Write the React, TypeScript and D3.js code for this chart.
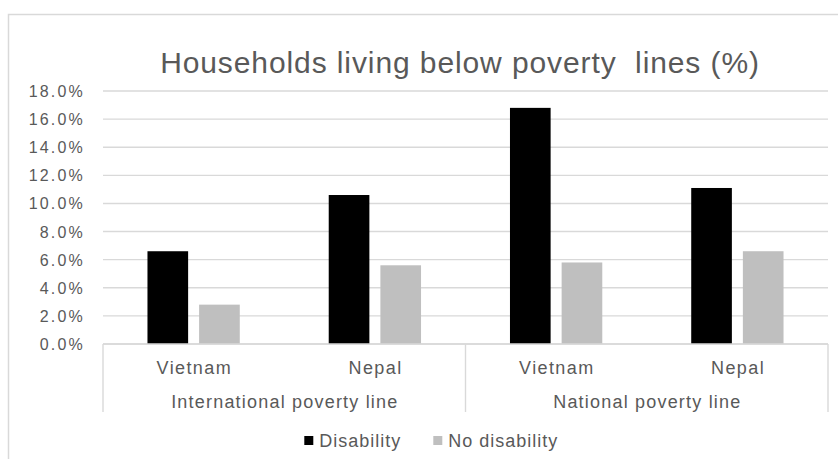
import React from "react";
import * as d3 from "d3";

const title = "Households living below poverty  lines (%)";
const countries = ["Vietnam", "Nepal", "Vietnam", "Nepal"];
const groups = ["International poverty line", "National poverty line"];
const groupOf = [0, 0, 1, 1];
const seriesNames = ["Disability", "No disability"];
const disability = [6.6, 10.6, 16.8, 11.1];
const noDisability = [2.8, 5.6, 5.8, 6.6];
const yTicks = [0, 2, 4, 6, 8, 10, 12, 14, 16, 18];

const W = 838;
const H = 459;
const left = 103;
const right = 828;
const top = 91;
const bottom = 344;
const textColor = "#595959";
const gridColor = "#d9d9d9";
const colors = ["#000000", "#bfbfbf"];
const font = "'Liberation Sans', Arial, sans-serif";

export default function App() {
  const idx = countries.map((_, i) => String(i));
  const x0 = d3.scaleBand<string>().domain(idx).range([left, right]).padding(0);
  const x1 = d3
    .scaleBand<string>()
    .domain(seriesNames)
    .range([0, x0.bandwidth()])
    .paddingInner(0.213)
    .paddingOuter(0.861);
  const y = d3.scaleLinear().domain([0, 18]).range([bottom, top]);
  const values = [disability, noDisability];
  const groupX = d3.scaleBand<string>().domain(groups).range([left, right]).padding(0);

  return (
    <svg
      width={W}
      height={H}
      style={{ position: "absolute", left: 0, top: 0, display: "block", background: "#fff" }}
      fontFamily={font}
    >
      <rect x={8.5} y={14.5} width={840} height={460} fill="#fff" stroke={gridColor} strokeWidth={1.5} />
      <text
        x={460}
        y={73}
        textAnchor="middle"
        fontSize={30}
        fill={textColor}
        letterSpacing={0.9}
        style={{ whiteSpace: "pre" }}
      >
        {title}
      </text>
      {yTicks.map((t) => (
        <g key={t}>
          <line x1={left} x2={right} y1={y(t)} y2={y(t)} stroke={gridColor} strokeWidth={1.4} />
          <text
            x={85}
            y={y(t) + 6}
            textAnchor="end"
            fontSize={16}
            fill={textColor}
            letterSpacing={2.2}
          >
            {d3.format(".1f")(t) + "%"}
          </text>
        </g>
      ))}
      {values.map((vals, s) =>
        vals.map((v, i) => (
          <rect
            key={s + "-" + i}
            x={(x0(String(i)) as number) + (x1(seriesNames[s]) as number)}
            y={y(v)}
            width={x1.bandwidth()}
            height={y(0) - y(v)}
            fill={colors[s]}
          />
        ))
      )}
      <line x1={left} x2={right} y1={bottom} y2={bottom} stroke={gridColor} strokeWidth={1.4} />
      {[left, groupX(groups[1]) as number, right].map((xv, i) => (
        <line key={i} x1={xv} x2={xv} y1={bottom} y2={412} stroke={gridColor} strokeWidth={1.4} />
      ))}
      {countries.map((c, i) => (
        <text
          key={i}
          x={(x0(String(i)) as number) + x0.bandwidth() / 2 + 0.7}
          y={374.3}
          textAnchor="middle"
          fontSize={18}
          fill={textColor}
          letterSpacing={1.4}
        >
          {c}
        </text>
      ))}
      {groups.map((g, gi) => (
        <text
          key={g}
          x={(groupX(g) as number) + groupX.bandwidth() / 2 + 0.6}
          y={407.7}
          textAnchor="middle"
          fontSize={18}
          fill={textColor}
          letterSpacing={1.2}
        >
          {g}
        </text>
      ))}
      {seriesNames.map((s, i) => {
        const sx = [304.3, 433.3][i];
        return (
          <g key={s}>
            <rect x={sx} y={436} width={9} height={9} fill={colors[i]} />
            <text x={sx + 15} y={446.7} fontSize={18} fill={textColor} letterSpacing={1}>
              {s}
            </text>
          </g>
        );
      })}
    </svg>
  );
}
